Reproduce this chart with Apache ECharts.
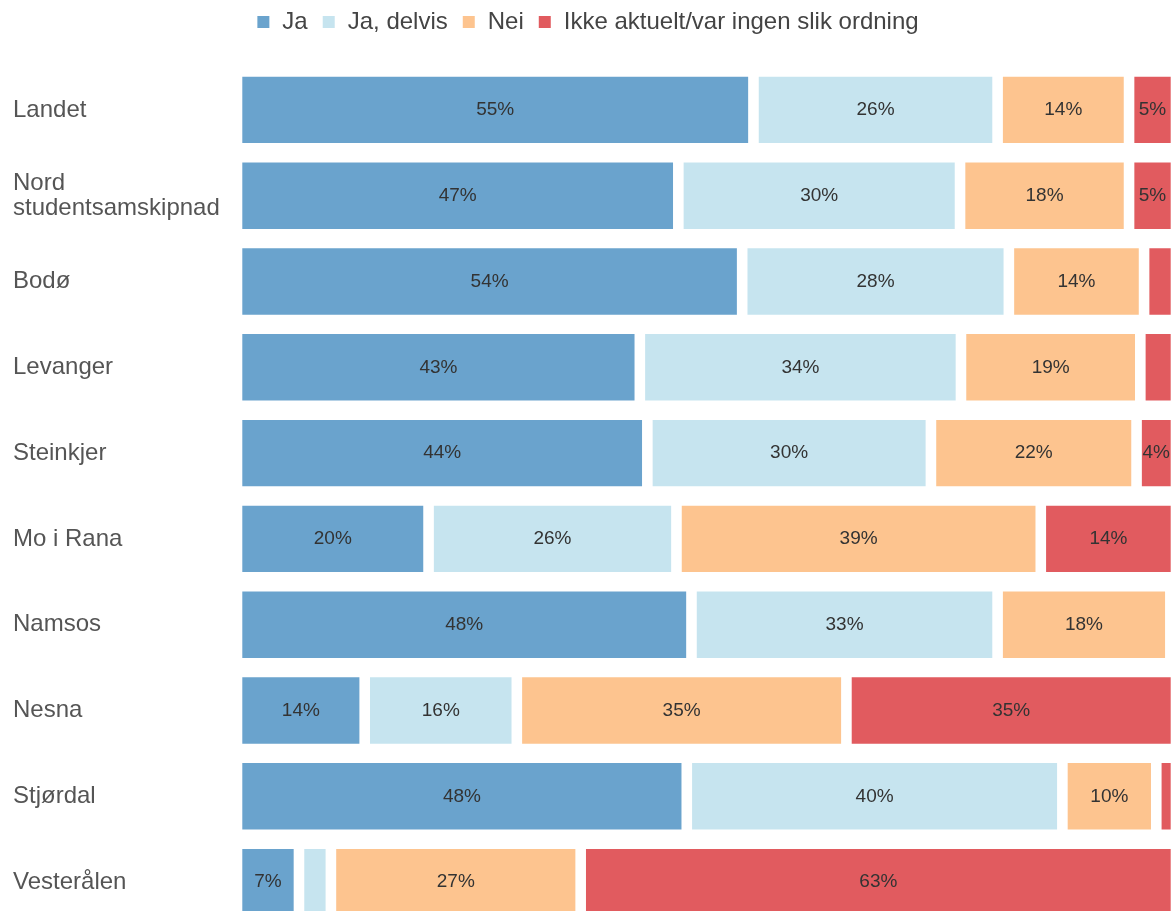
<!DOCTYPE html>
<html><head><meta charset="utf-8">
<script src="https://cdn.jsdelivr.net/npm/echarts@6/dist/echarts.min.js"></script>
<style>html,body{margin:0;padding:0;background:#fff}#c{width:1174px;height:911px}</style>
</head><body><div id="c"></div>
<script>
var categories = ['Landet','Nord\nstudentsamskipnad','Bodø','Levanger','Steinkjer','Mo i Rana','Namsos','Nesna','Stjørdal','Vesterålen'];
var seriesNames = ['Ja','Ja, delvis','Nei','Ikke aktuelt/var ingen slik ordning'];
var ja      = [55, 47, 53.8, 42.9, 43.7, 20.4, 48.4, 13.6, 47.9, 6.6];
var delvis  = [26, 30, 28.4, 34.2, 30.2, 26.4, 32.6, 16.2, 40.0, 3.4];
var nei     = [14, 18, 14.4, 19.1, 21.9, 38.8, 18.4, 35.1, 10.0, 26.6];
var ikke    = [5, 5, 3.4, 3.8, 4.2, 14.4, 0.6, 35.1, 2.1, 63.4];
var colors = ['#6aa3cd','#c6e4ef','#fdc48f','#e15b5f'];
var values = [ja, delvis, nei, ikke];
var FONT = 'Liberation Sans, Arial, sans-serif';

var chart = echarts.init(document.getElementById('c'), null, {renderer:'canvas'});
var series = values.map(function(v, i){
  return {
    name: seriesNames[i], type: 'bar', stack: 'total', data: v,
    barWidth: 77,
    itemStyle: {color: colors[i], borderColor: '#fff', borderWidth: 5.3},
    label: {show: true, position: 'inside', color: '#333', fontSize: 19,
      fontFamily: FONT,
      formatter: function(p){ return p.value >= 4 ? Math.round(p.value) + '%' : ''; }},
    emphasis: {disabled: true}
  };
});
chart.setOption({
  animation: false,
  backgroundColor: '#fff',
  color: colors,
  legend: {
    top: 5, left: 'center', itemWidth: 14, itemHeight: 14, itemGap: 13,
    icon: 'rect',
    textStyle: {fontSize: 24, color: '#444', fontFamily: FONT, padding:[0,0,0,7]},
    data: seriesNames
  },
  grid: {left: 237, right: -2, top: 67, height: 858, containLabel: false, outerBoundsMode: 'none'},
  xAxis: {type: 'value', min: 0, max: 100, show: false},
  yAxis: {
    type: 'category', data: categories, inverse: true,
    axisLine: {show: false}, axisTick: {show: false}, splitLine: {show: false},
    axisLabel: {align: 'left', margin: 224, fontSize: 24, color: '#555', lineHeight: 25,
      padding: [5, 0, 0, 0], fontFamily: FONT}
  },
  series: series
});
</script></body></html>
